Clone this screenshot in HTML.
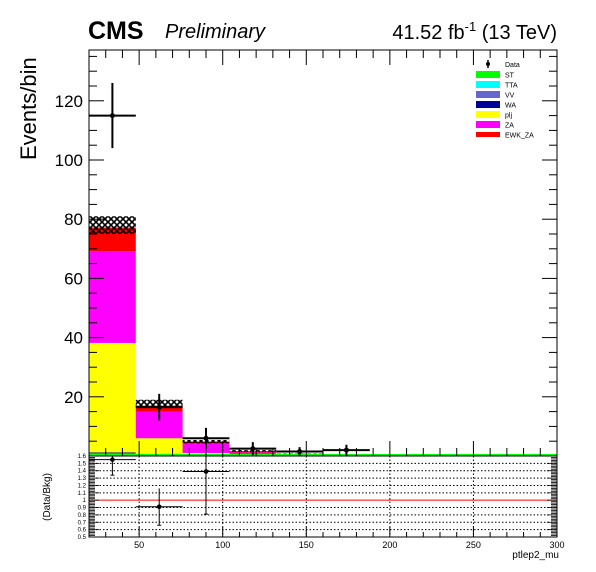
<!DOCTYPE html>
<html><head><meta charset="utf-8"><style>
body{margin:0;background:#fff}
svg{display:block;font-family:"Liberation Sans",sans-serif}
</style></head><body>
<svg id="c" width="596" height="572"></svg>
<script>
const binEdges=[20,48,76,104,132,160,188];
const dataVals=[115,16.5,6,2.5,1.5,2];
const dataErr=[11,4.5,3.5,2.2,1.5,1.8];
const stST=[0.3,0.1,0.05,0,0,0];
const stTTA=[0.3,0.1,0.05,0,0,0];
const stVV=[0.4,0.1,0.05,0,0,0];
const stWA=[0.2,0.1,0.05,0,0,0];
const stPLJ=[37,5.6,0.8,0.3,0.1,0];
const stZA=[31,9,3.4,0.9,0.3,0];
const stEWK=[8,2,0.5,0.3,0.2,0];
const uncLo=[75,16.2,4.3,1.4,0.5,0];
const uncHi=[81,19,5.4,2,0.8,0];
const ratioVals=[1.55,0.91,1.39];
const ratioErrLo=[0.21,0.25,0.58];
const ratioErrHi=[0.15,0.25,0.3];
const yTicks=[20,40,60,80,100,120];
const xTicks=[50,100,150,200,250,300];
const rTicks=[0.5,0.6,0.7,0.8,0.9,1,1.1,1.2,1.3,1.4,1.5,1.6];

const L=89,R=557,T=50,B=456,RB=537;
const X=v=>L+(v-20)*(R-L)/280;
const Y=v=>B-v*2.96;
const RY=v=>RB-(v-0.5)*(RB-B)/1.1;
const svg=document.getElementById('c');
const NS='http://www.w3.org/2000/svg';
function el(tag,attrs,parent,txt){const e=document.createElementNS(NS,tag);for(const k in attrs)e.setAttribute(k,attrs[k]);if(txt!==undefined)e.textContent=txt;(parent||svg).appendChild(e);return e;}
// hatch pattern
const defs=el('defs',{});
const pat=el('pattern',{id:'hatch',width:6,height:6,patternUnits:'userSpaceOnUse'},defs);
el('path',{d:'M0,0L6,6M6,0L0,6',stroke:'#000','stroke-width':1.6},pat);

const gStack=el('g',{});


const comps=[['st',stST,'#00ff00'],['tta',stTTA,'#00ffff'],['vv',stVV,'#6666cc'],['wa',stWA,'#000099'],['plj',stPLJ,'#ffff00'],['za',stZA,'#ff00ff'],['ewk-za',stEWK,'#ff0000']];
for(let i=0;i<dataVals.length;i++){
  let base=0;
  for(const [n,arr,col] of comps){
    if(arr[i]<=0)continue;
    const r=el('rect',{x:X(binEdges[i]),y:Y(base+arr[i]),width:X(binEdges[i+1])-X(binEdges[i]),height:Y(base)-Y(base+arr[i]),fill:col},gStack);
    
    
    base+=arr[i];
  }
  if(uncHi[i]>0){
    const u=el('rect',{x:X(binEdges[i]),y:Y(uncHi[i]),width:X(binEdges[i+1])-X(binEdges[i]),height:Y(uncLo[i])-Y(uncHi[i]),fill:'url(#hatch)'},gStack);
    
    
  }
}
el('line',{x1:L,x2:R,y1:B-1,y2:B-1,stroke:'#00ff00','stroke-width':2});
// data points
for(let i=0;i<dataVals.length;i++){
  const g=el('g',{stroke:'#000','stroke-width':2});
  
  
  const cx=X((binEdges[i]+binEdges[i+1])/2),cy=Y(dataVals[i]);
  el('line',{x1:X(binEdges[i]),x2:X(binEdges[i+1]),y1:cy,y2:cy},g);
  el('line',{x1:cx,x2:cx,y1:Y(dataVals[i]+dataErr[i]),y2:Math.min(B,Y(dataVals[i]-dataErr[i]))},g);
  el('circle',{cx:cx,cy:cy,r:2.5,fill:'#000',stroke:'none'},g);
}
// main frame
const fr=el('rect',{x:L,y:T,width:R-L,height:B-T,fill:'none',stroke:'#000','stroke-width':1});

for(let v=5;v<=135;v+=5){const maj=v%20==0;const len=maj?15:8;
  el('line',{x1:L,x2:L+len,y1:Y(v),y2:Y(v),stroke:'#000'});
  el('line',{x1:R,x2:R-len,y1:Y(v),y2:Y(v),stroke:'#000'});}
for(const v of yTicks){const t=el('text',{x:L-6,y:Y(v)+6,'text-anchor':'end','font-size':17},svg,v);
  }
for(let v=30;v<=300;v+=10){const maj=v%50==0;const len=maj?15:8;
  el('line',{x1:X(v),x2:X(v),y1:B,y2:B-len,stroke:'#000'});
  el('line',{x1:X(v),x2:X(v),y1:T,y2:T+len,stroke:'#000'});}
// ratio pad
const rg=el('g',{});

for(const v of xTicks.slice(0,5))el('line',{x1:X(v),x2:X(v),y1:B,y2:RB,stroke:'#000','stroke-dasharray':'1.5,2'},rg);
for(const v of rTicks.slice(1,11)){ if(v===1)continue; el('line',{x1:L,x2:R,y1:RY(v),y2:RY(v),stroke:'#000','stroke-dasharray':'1.5,2'},rg);}
el('line',{x1:L,x2:R,y1:RY(1),y2:RY(1),stroke:'#ff0000','stroke-width':1},rg);
for(let v=0.5;v<=1.601;v+=0.02){const maj=Math.abs(v*10-Math.round(v*10))<0.01;const len=maj?10:6;
  el('line',{x1:L,x2:L+len,y1:RY(v),y2:RY(v),stroke:'#000','stroke-width':0.8},rg);
  el('line',{x1:R,x2:R-len,y1:RY(v),y2:RY(v),stroke:'#000','stroke-width':0.8},rg);}
for(let v=30;v<=300;v+=10){const len=v%50==0?10:5;el('line',{x1:X(v),x2:X(v),y1:RB,y2:RB-len,stroke:'#000'},rg);}
el('rect',{x:L,y:B,width:R-L,height:RB-B,fill:'none',stroke:'#000'},rg);
for(const v of rTicks){const t=el('text',{x:L-3,y:RY(v)+2,'text-anchor':'end','font-size':6},rg,String(v));
  }
for(const v of xTicks){const t=el('text',{x:X(v),y:RB+11,'text-anchor':'middle','font-size':9},rg,v);
  }
for(let i=0;i<ratioVals.length;i++){
  const g=el('g',{stroke:'#000','stroke-width':1});
  
  const cx=X((binEdges[i]+binEdges[i+1])/2),cy=RY(ratioVals[i]);
  el('line',{x1:X(binEdges[i]),x2:X(binEdges[i+1]),y1:cy,y2:cy},g);
  el('line',{x1:cx,x2:cx,y1:Math.max(B,RY(ratioVals[i]+ratioErrHi[i])),y2:RY(ratioVals[i]-ratioErrLo[i])},g);
  el('line',{x1:cx-2,x2:cx+2,y1:RY(ratioVals[i]-ratioErrLo[i]),y2:RY(ratioVals[i]-ratioErrLo[i])},g);
  el('circle',{cx:cx,cy:cy,r:2.3,fill:'#000',stroke:'none'},g);
}
// titles
let t;
t=el('text',{x:88,y:39,'font-size':25,'font-weight':'bold'},svg,'CMS');
t=el('text',{x:165,y:38,'font-size':20,'font-style':'italic'},svg,'Preliminary');
t=el('text',{x:557,y:39,'font-size':20,'text-anchor':'end'},svg);
el('tspan',{},t,'41.52 fb');el('tspan',{dy:-8,'font-size':13},t,'-1');el('tspan',{dy:8},t,' (13 TeV)');
t=el('text',{x:0,y:0,'font-size':22,transform:'translate(36,160) rotate(-90)'},svg,'Events/bin');
t=el('text',{x:0,y:0,'font-size':10,'text-anchor':'middle',transform:'translate(50,497) rotate(-90)'},svg,'(Data/Bkg)');
t=el('text',{x:559,y:558,'font-size':10,'text-anchor':'end'},svg,'ptlep2_mu');
// legend
const leg=el('g',{});
const legNames=['ST','TTA','VV','WA','plj','ZA','EWK_ZA'];
const legCols=['#00ff00','#00ffff','#6666cc','#000099','#ffff00','#ff00ff','#ff0000'];
t=el('text',{x:505,y:67,'font-size':7},leg,'Data');
el('line',{x1:488,x2:488,y1:60,y2:68,stroke:'#000','stroke-width':1.5},leg);
el('circle',{cx:488,cy:64,r:2,fill:'#000'},leg);
for(let i=0;i<legNames.length;i++){
  const y=71+i*10;
  const r=el('rect',{x:476,y:y,width:24,height:i==6?5:7,fill:legCols[i]},leg);
  if(i==6)r.setAttribute('y',y+1);
  const tt=el('text',{x:505,y:y+6.5,'font-size':7},leg,legNames[i]);
  
}
</script>
</body></html>
